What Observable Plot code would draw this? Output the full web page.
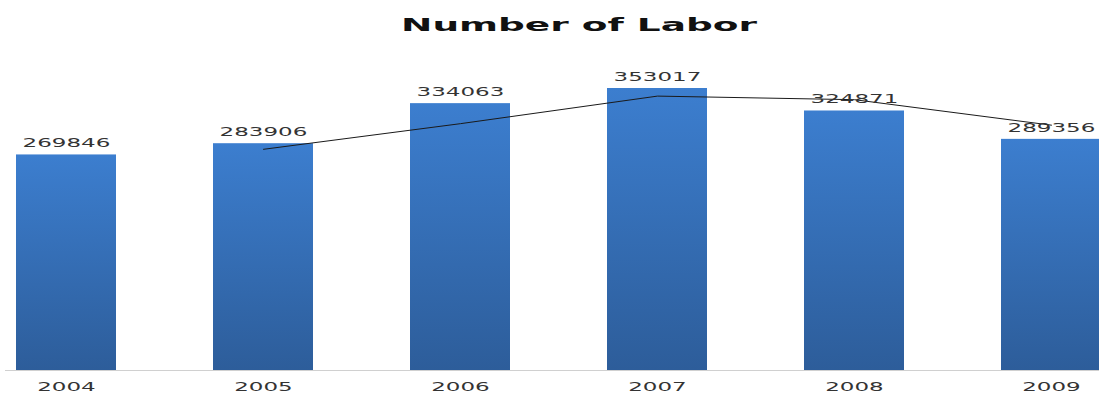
<!DOCTYPE html>
<html><head><meta charset="utf-8">
<script src="https://cdn.jsdelivr.net/npm/d3@7"></script>
<script src="https://cdn.jsdelivr.net/npm/@observablehq/plot@0.6"></script>
<style>
body{margin:0;background:#fff;}
#wrap{position:relative;width:1099px;height:394px;overflow:hidden;background:#fff;}
#title{position:relative;height:50px;}
#title span{position:absolute;left:578.5px;top:16px;font:bold 18px/18px "DejaVu Sans";white-space:nowrap;transform:translateX(-50%) scaleX(2.08);transform-origin:center;color:#111;}
</style></head><body>
<div id="wrap"><div id="title"><span>Number of Labor</span></div><div id="chart"></div></div>
<script>
const years = ["2004","2005","2006","2007","2008","2009"];
const labor = [269846, 283906, 334063, 353017, 324871, 289356];
// trend line (2-period moving average)
const trendYears = ["2005","2006","2007","2008","2009"];
const trendValues = [276900, 309000, 343500, 339000, 307100];

const bars = years.map((y, i) => ({year: y, value: labor[i]}));
const trend = trendYears.map((y, i) => ({year: y, value: trendValues[i]}));

const k = 282 / 353017;
const base = 320;

const gradDefs = () => {
  const defs = d3.create("svg:defs");
  const g = defs.append("linearGradient").attr("id", "barGrad")
    .attr("x1", 0).attr("y1", 0).attr("x2", 0).attr("y2", 1);
  g.append("stop").attr("offset", "0%").attr("stop-color", "#3c7ecf");
  g.append("stop").attr("offset", "100%").attr("stop-color", "#2d5d9a");
  return defs.node();
};

const chart = Plot.plot({
  width: 1099, height: 344,
  marginLeft: 5, marginRight: 0, marginTop: 0, marginBottom: 24,
  x: {type: "band", domain: years, range: [-34.6, 1151.9], paddingInner: 0.49, paddingOuter: 0.245, axis: null},
  y: {domain: [0, 400000], range: [base, base - 400000 * k], axis: null},
  style: {fontFamily: "DejaVu Sans", background: "#fff", overflow: "visible"},
  marks: [
    gradDefs,
    Plot.barY(bars, {x: "year", y: "value", fill: "url(#barGrad)"}),
    Plot.ruleY([0], {stroke: "#d0d0d0", strokeWidth: 1}),
    Plot.line(trend, {x: "year", y: "value", stroke: "#1a1a1a", strokeWidth: 1}),
    Plot.text(bars, {x: "year", y: "value", text: d => String(d.value), dy: -11.5, fontSize: 12.5, fill: "#333"}),
    Plot.text(bars, {x: "year", frameAnchor: "bottom", dy: 20, text: "year", fontSize: 12.5, fill: "#333"})
  ]
});
document.getElementById("chart").append(chart);
chart.querySelectorAll("text").forEach(t => {
  const b = t.getBBox();
  const cx = b.x + b.width / 2;
  const prev = t.getAttribute("transform") || "";
  t.setAttribute("transform", `${prev} translate(${cx},0) scale(1.84,1) translate(${-cx},0)`);
});
</script>
</body></html>
